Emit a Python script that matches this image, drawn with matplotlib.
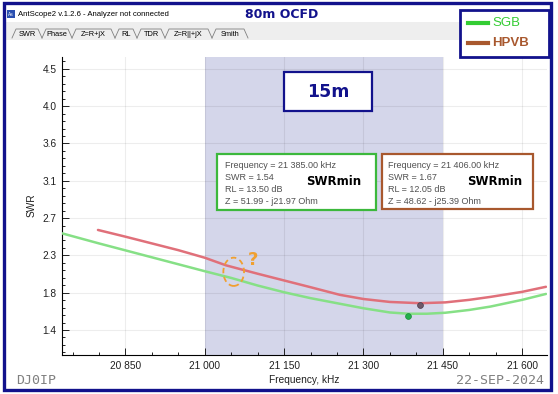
import numpy as np
import matplotlib
matplotlib.use("Agg")
from matplotlib import pyplot as plt
import matplotlib.patches as patches
from matplotlib.ticker import FixedLocator, MultipleLocator

# SWR sweep, 80m OCFD on 15m band
freq_sgb = [20730, 20800, 20900, 21000, 21050, 21100, 21150, 21200, 21250,
            21300, 21350, 21385, 21420, 21455, 21500, 21540, 21600, 21645]
swr_sgb = [2.52, 2.40, 2.235, 2.07, 1.99, 1.90, 1.82, 1.75, 1.69,
           1.63, 1.58, 1.565, 1.565, 1.577, 1.61, 1.65, 1.73, 1.80]

freq_hpvb = [20798, 20850, 20900, 20950, 21000, 21040, 21100, 21150, 21200,
             21255, 21300, 21350, 21407, 21455, 21500, 21540, 21600, 21645]
swr_hpvb = [2.56, 2.48, 2.40, 2.32, 2.23, 2.14, 2.04, 1.96, 1.88,
            1.79, 1.74, 1.705, 1.69, 1.70, 1.73, 1.765, 1.825, 1.885]

min_sgb = (21385, 1.54)
min_hpvb = (21406, 1.67)

band = (21000, 21450)

ytick_pos = [1.372, 1.815, 2.258, 2.701, 3.144, 3.587, 4.030, 4.473]
ytick_lbl = ["1.4", "1.8", "2.3", "2.7", "3.1", "3.6", "4.0", "4.5"]
xtick_pos = [20850, 21000, 21150, 21300, 21450, 21600]
xtick_lbl = ["20 850", "21 000", "21 150", "21 300", "21 450", "21 600"]

info_sgb = ["Frequency = 21 385.00 kHz", "SWR = 1.54", "RL = 13.50 dB",
            "Z = 51.99 - j21.97 Ohm"]
info_hpvb = ["Frequency = 21 406.00 kHz", "SWR = 1.67", "RL = 12.05 dB",
             "Z = 48.62 - j25.39 Ohm"]
tabs = ["SWR", "Phase", "Z=R+jX", "RL", "TDR", "Z=R||+jX", "Smith"]

W, H = 558, 394
navy = '#12128c'
green = '#86e086'
red = '#e0707a'
brown = '#a8582e'
txtgray = '#505050'

plt.rcParams['font.family'] = ['Liberation Sans', 'DejaVu Sans']


def fx(x):
    return x / W


def fy(y):
    return 1 - y / H


fig = plt.figure(figsize=(W / 100, H / 100), dpi=100)

# window header / tab strip
fig.patches.append(patches.Rectangle((fx(5), fy(40)), fx(545), 18 / H,
                                     transform=fig.transFigure,
                                     facecolor='#eeeeee', edgecolor='none'))
fig.patches.append(patches.Rectangle((fx(7), fy(18)), fx(8), 8 / H,
                                     transform=fig.transFigure,
                                     facecolor='#2a4fb0', edgecolor='none'))
fig.text(fx(11), fy(14), "As", fontsize=3.5, color='white', ha='center',
         va='center')
fig.text(fx(18), fy(14), "AntScope2 v.1.2.6 - Analyzer not connected",
         fontsize=5.6, va='center')
fig.text(fx(245), fy(14), "80m OCFD", fontsize=9, fontweight='bold',
         color=navy, va='center', family='DejaVu Sans')

bounds = [12, 42, 72, 115, 137, 165, 212, 248]
for i, t in enumerate(tabs):
    xl, xr = bounds[i], bounds[i + 1]
    xs = [xl, xl + 4, xr - 4, xr]
    ys = [38, 29, 29, 38]
    fig.add_artist(plt.Line2D([fx(v) for v in xs], [fy(v) for v in ys],
                              transform=fig.transFigure, color='#808080',
                              lw=0.6))
    fig.text(fx((xl + xr) / 2), fy(34), t, fontsize=5.3, ha='center',
             va='center')

# plot area
ax = fig.add_axes([fx(62), fy(355), (547 - 62) / W, (355 - 57) / H])
ax.axvspan(band[0], band[1], color='#d4d6ea', zorder=0, lw=0)
ax.plot(freq_sgb, swr_sgb, color=green, lw=1.8, zorder=3,
        solid_capstyle='round')
ax.plot(freq_hpvb, swr_hpvb, color=red, lw=1.8, zorder=3,
        solid_capstyle='round')
ax.plot(*min_sgb, 'o', color='#22b04a', ms=4.2, zorder=4, mec='#1a8a3a',
        mew=0.5)
ax.plot(*min_hpvb, 'o', color='#6e5868', ms=4.2, zorder=4, mec='#4a3a48',
        mew=0.5)

ax.set_xlim(20730, 21647)
ax.set_ylim(1.075, 4.614)
ax.xaxis.set_major_locator(FixedLocator(xtick_pos))
ax.set_xticklabels(xtick_lbl)
ax.xaxis.set_minor_locator(MultipleLocator(50))
ax.yaxis.set_major_locator(FixedLocator(ytick_pos))
ax.set_yticklabels(ytick_lbl)
ax.yaxis.set_minor_locator(FixedLocator(
    [1.372 + 0.443 * k / 5 - 0.443 for k in range(45)]))
ax.tick_params(direction='in', length=5, width=0.7, labelsize=7.3,
               colors='#202020', pad=4)
ax.tick_params(which='minor', direction='in', length=2.5, width=0.6)
ax.grid(True, which='major', color='black', alpha=0.07, lw=0.8, zorder=1)
ax.set_axisbelow(True)
for s in ['top', 'right']:
    ax.spines[s].set_visible(False)
for s in ['left', 'bottom']:
    ax.spines[s].set_linewidth(0.8)
ax.set_facecolor('white')

fig.text(fx(304), fy(380), "Frequency, kHz", fontsize=7.3, ha='center',
         va='center', color='#202020')
fig.text(fx(32), fy(205), "SWR", fontsize=7.3, ha='center', va='center',
         rotation=90, color='#202020')

# info boxes
def info_box(x0, y0, x1, y1, col, lines, xt, xs):
    fig.patches.append(patches.Rectangle((fx(x0), fy(y1)), (x1 - x0) / W,
                                         (y1 - y0) / H,
                                         transform=fig.transFigure,
                                         facecolor='white', edgecolor=col,
                                         lw=1.6, zorder=5))
    for k, ln in enumerate(lines):
        fig.text(fx(xt), fy(165 + 12.3 * k), ln, fontsize=6.5, va='center',
                 color=txtgray, zorder=6)
    fig.text(fx(xs), fy(182), "SWRmin", fontsize=8.5, fontweight='bold',
             va='center', family='DejaVu Sans', zorder=6)


info_box(217, 154, 376, 210, '#3cb83c', info_sgb, 225, 306)
info_box(382, 154, 533, 209, brown, info_hpvb, 388, 467)

# 15m label
fig.patches.append(patches.Rectangle((fx(284), fy(111)), 88 / W, 39 / H,
                                     transform=fig.transFigure,
                                     facecolor='white', edgecolor=navy,
                                     lw=1.6, zorder=5))
fig.text(fx(328), fy(92), "15m", fontsize=12.5, fontweight='bold',
         color=navy, ha='center', va='center', family='DejaVu Sans',
         zorder=6)

# question mark
fig.patches.append(patches.Ellipse((fx(233.7), fy(271.8)), 20.7 / W,
                                   28.3 / H, transform=fig.transFigure,
                                   facecolor='none', edgecolor='#f0a030',
                                   lw=1.3, ls=(0, (3, 2)), zorder=6))
fig.text(fx(253), fy(260), "?", fontsize=13, fontweight='bold',
         color='#f0a030', ha='center', va='center', family='DejaVu Sans',
         zorder=6)

# legend box
fig.patches.append(patches.Rectangle((fx(460), fy(57)), 89 / W, 47 / H,
                                     transform=fig.transFigure,
                                     facecolor='white', edgecolor=navy,
                                     lw=2.0, zorder=5))
fig.add_artist(plt.Line2D([fx(468), fx(488)], [fy(23), fy(23)],
                          transform=fig.transFigure, color='#33cc33', lw=3,
                          zorder=6))
fig.text(fx(492), fy(23), "SGB", fontsize=9.5, color='#33cc33',
         va='center', zorder=6)
fig.add_artist(plt.Line2D([fx(468), fx(488)], [fy(43), fy(43)],
                          transform=fig.transFigure, color=brown, lw=3,
                          zorder=6))
fig.text(fx(492), fy(43), "HPVB", fontsize=9.5, color=brown,
         fontweight='bold', va='center', zorder=6)

# footer
fig.text(fx(16), fy(381), "DJ0IP", fontsize=9.5, color='#808080',
         family='DejaVu Sans Mono', va='center')
fig.text(fx(544), fy(381), "22-SEP-2024", fontsize=9.5, color='#808080',
         family='DejaVu Sans Mono', va='center', ha='right')

# outer frame
fig.patches.append(patches.Rectangle((fx(4), fy(390)), 547 / W, 387 / H,
                                     transform=fig.transFigure,
                                     facecolor='none', edgecolor=navy,
                                     lw=2.4, zorder=10))

fig.savefig("out.png", dpi=100)
